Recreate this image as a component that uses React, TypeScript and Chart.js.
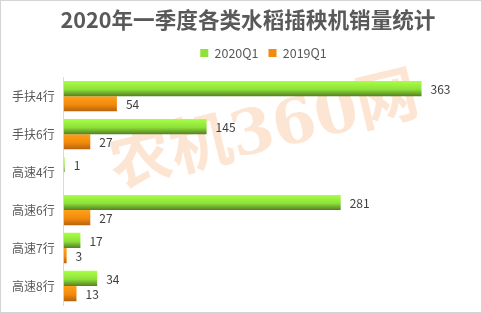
import React, { useEffect, useRef } from "react";
import { Chart, registerables } from "chart.js";

Chart.register(...registerables);

const categories = ["手扶4行", "手扶6行", "高速4行", "高速6行", "高速7行", "高速8行"];
const sales2020Q1: (number | null)[] = [363, 145, 1, 281, 17, 34];
const sales2019Q1: (number | null)[] = [54, 27, null, 27, 3, 13];
const seriesNames = ["2020Q1", "2019Q1"];
const titleText = "2020年一季度各类水稻插秧机销量统计";
const watermarkText = "农机360网";

const CJK = "'Noto Sans CJK SC', 'Noto Sans', sans-serif";

const greenStops: [number, string][] = [[0, "#a8ff44"], [0.55, "#8ee23a"], [1, "#557f22"]];
const orangeStops: [number, string][] = [[0, "#ffa01a"], [0.55, "#f28a0c"], [1, "#b8620e"]];

function makeGradient(stops: [number, string][], dsIndex: number) {
  return (ctx: any) => {
    const chart = ctx.chart;
    const y = chart.scales && chart.scales.y;
    if (!y || ctx.type !== "data") return stops[1][1];
    const c = y.getPixelForValue(ctx.dataIndex);
    const cat = Math.abs(y.getPixelForValue(1) - y.getPixelForValue(0)) || 38;
    const th = cat * 0.8 / 2;
    const top = dsIndex === 0 ? c - th : c;
    const g = chart.ctx.createLinearGradient(0, top, 0, top + th);
    stops.forEach(([o, col]) => g.addColorStop(o, col));
    return g;
  };
}

const framePlugin = {
  id: "frame",
  beforeDraw(chart: any) {
    const { ctx, width, height } = chart;
    ctx.save();
    ctx.fillStyle = "#ffffff";
    ctx.fillRect(0, 0, width, height);
    ctx.strokeStyle = "#d4d4d4";
    ctx.lineWidth = 1;
    ctx.strokeRect(0.5, 0.5, width - 1, height - 1);
    ctx.restore();
  },
  afterLayout(chart: any) {
    if (chart.titleBlock) {
      chart.titleBlock.left += 17.5;
      chart.titleBlock.right += 17.5;
    }
    if (chart.legend) {
      chart.legend.left += 33;
      chart.legend.right += 33;
      chart.legend.top -= 8;
      chart.legend.bottom -= 8;
    }
  },
  beforeDatasetsDraw(chart: any) {
    const { ctx } = chart;
    ctx.save();
    ctx.translate(265, 134);
    ctx.rotate(-13.6 * Math.PI / 180);
    ctx.font = "bold 62px 'DejaVu Serif', 'Noto Sans CJK SC', serif";
    ctx.fillStyle = "rgba(245, 145, 70, 0.24)";
    ctx.textAlign = "center";
    ctx.textBaseline = "middle";
    ctx.fillText(watermarkText, 0, 0);
    ctx.restore();
  },
  afterDatasetsDraw(chart: any) {
    const { ctx } = chart;
    ctx.save();
    ctx.font = `12px ${CJK}`;
    ctx.fillStyle = "#404040";
    ctx.textAlign = "left";
    ctx.textBaseline = "middle";
    chart.data.datasets.forEach((ds: any, di: number) => {
      const meta = chart.getDatasetMeta(di);
      meta.data.forEach((el: any, i: number) => {
        const v = ds.data[i];
        if (v === null || v === undefined) return;
        ctx.fillText(String(v), el.x + 9, el.y + 1);
      });
    });
    ctx.restore();
  },
};

export default function App() {
  const ref = useRef<HTMLCanvasElement>(null);
  useEffect(() => {
    document.body.style.margin = "0";
    if (!ref.current) return;
    const chart = new Chart(ref.current, {
      type: "bar",
      data: {
        labels: categories,
        datasets: [
          {
            label: seriesNames[0],
            data: sales2020Q1,
            backgroundColor: makeGradient(greenStops, 0),
            borderWidth: 0,
          },
          {
            label: seriesNames[1],
            data: sales2019Q1,
            backgroundColor: makeGradient(orangeStops, 1),
            borderWidth: 0,
          },
        ],
      },
      options: {
        indexAxis: "y",
        responsive: false,
        animation: false,
        maintainAspectRatio: false,
        layout: { autoPadding: false, padding: { left: 3, right: 24, top: 0, bottom: 8 } },
        datasets: { bar: { categoryPercentage: 0.8, barPercentage: 1 } },
        plugins: {
          title: {
            display: true,
            text: titleText,
            color: "#595959",
            font: { family: CJK, size: 21.6, weight: "bold", lineHeight: 1 },
            padding: { top: 9.2, bottom: 13.9 },
          },
          legend: {
            display: true,
            labels: {
              color: "#595959",
              font: { family: CJK, size: 12.5 },
              boxWidth: 8,
              boxHeight: 8,
              padding: 10,
              generateLabels: (chart: any) =>
                chart.data.datasets.map((ds: any, i: number) => ({
                  text: ds.label,
                  fillStyle: i === 0 ? "#8ee23a" : "#f28a0c",
                  strokeStyle: "transparent",
                  lineWidth: 0,
                  datasetIndex: i,
                  fontColor: "#595959",
                })),
            },
          },
          tooltip: { enabled: false },
        },
        scales: {
          x: { display: false, min: 0, max: 400 },
          y: {
            grid: { display: false, drawTicks: false },
            border: { display: true, color: "#d9d9d9" },
            ticks: { color: "#595959", font: { family: CJK, size: 12 }, padding: 9 },
            afterFit: (scale: any) => {
              scale.paddingTop = 0;
              scale.paddingBottom = 0;
            },
          },
        },
      },
      plugins: [framePlugin],
    });
    return () => chart.destroy();
  }, []);
  return <canvas ref={ref} width={482} height={313} style={{ display: "block" }} />;
}
